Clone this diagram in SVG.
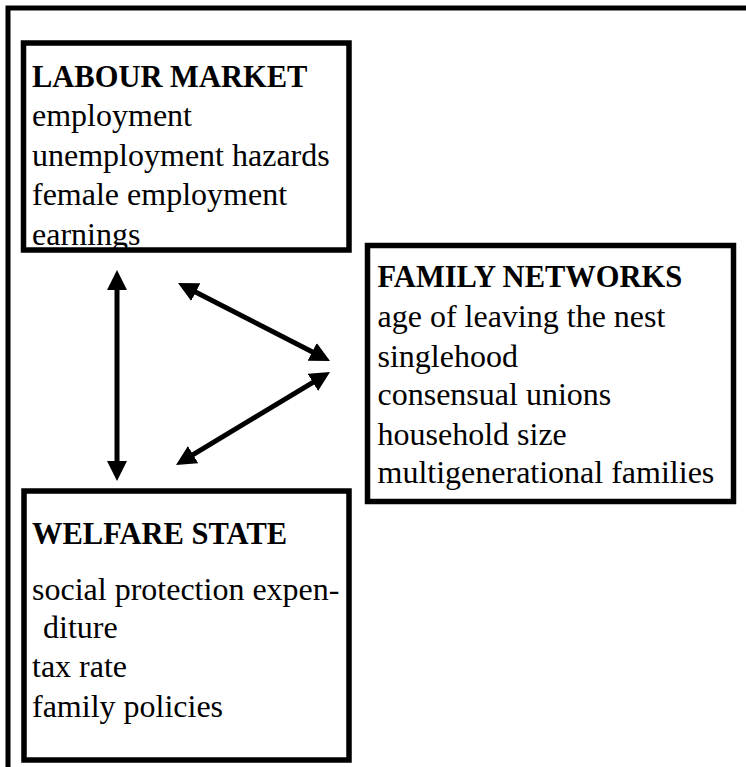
<svg xmlns="http://www.w3.org/2000/svg" width="746" height="767" viewBox="0 0 746 767">
  <style>
    .box { fill: #ffffff; stroke: #000000; stroke-width: 5.5; }
    .frame { fill: none; stroke: #000000; stroke-width: 5; }
    .title { font-family: 'Liberation Serif', serif; font-weight: bold; font-size: 30.5px; fill: #000000; }
    .item { font-family: 'Liberation Serif', serif; font-size: 32px; fill: #000000; }
    .link { stroke: #000000; stroke-width: 5; fill: none; marker-start: url(#head); marker-end: url(#head); }
  </style>
  <defs>
    <marker id="head" markerUnits="userSpaceOnUse" viewBox="0 0 20 20" markerWidth="20" markerHeight="20" refX="2" refY="10" orient="auto-start-reverse">
      <path d="M0,0 L20,10 L0,20 z" fill="#000000"/>
    </marker>
  </defs>

  <rect x="0" y="0" width="746" height="767" fill="#ffffff"/>

  <!-- outer frame (top and left edges) -->
  <path class="frame" d="M8,767 L8,8 L746,8"/>

  <!-- two-headed connectors -->
  <g id="connectors">
    <line class="link" x1="117" y1="288" x2="117" y2="463"/>
    <line class="link" x1="194" y1="291.2" x2="314" y2="352.8"/>
    <line class="link" x1="314.6" y1="381.3" x2="191.4" y2="455.7"/>
  </g>

  <g id="labour-market">
    <rect class="box" x="23.5" y="43" width="325.5" height="207"/>
    <text class="title" x="32" y="87">LABOUR MARKET</text>
    <text class="item" x="32" y="126">employment</text>
    <text class="item" x="32" y="166">unemployment hazards</text>
    <text class="item" x="32" y="205">female employment</text>
    <text class="item" x="32" y="245">earnings</text>
  </g>

  <g id="family-networks">
    <rect class="box" x="367.5" y="245.5" width="366" height="256"/>
    <text class="title" x="377.5" y="287">FAMILY NETWORKS</text>
    <text class="item" x="377.5" y="327">age of leaving the nest</text>
    <text class="item" x="377.5" y="367">singlehood</text>
    <text class="item" x="377.5" y="405">consensual unions</text>
    <text class="item" x="377.5" y="445">household size</text>
    <text class="item" x="377.5" y="483">multigenerational families</text>
  </g>

  <g id="welfare-state">
    <rect class="box" x="24" y="491" width="325" height="269"/>
    <text class="title" x="32" y="544">WELFARE STATE</text>
    <text class="item" x="32" y="600">social protection expen-</text>
    <text class="item" x="43" y="638">diture</text>
    <text class="item" x="32" y="677">tax rate</text>
    <text class="item" x="32" y="717">family policies</text>
  </g>
</svg>
